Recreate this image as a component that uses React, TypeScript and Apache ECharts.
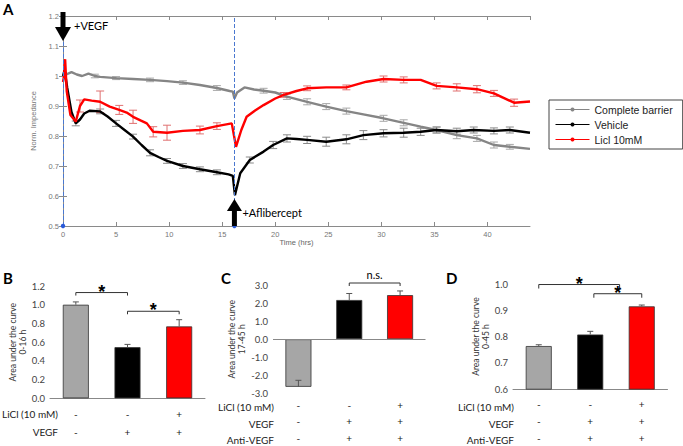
import React, { useEffect, useRef } from 'react';
import * as echarts from 'echarts';

// ---------- Panel A data: [time (hrs), norm. impedance, error] ----------
const barrierPts: number[][] = [
  [0, 0.995, 0], [0.3, 1.005, 0], [0.8, 1.013, 0], [1.3, 1.005, 0], [1.8, 1.0, 0], [2.4, 1.008, 0],
  [3, 1.0, 0.006], [3.5, 0.997, 0], [5, 0.993, 0.005], [6.6, 0.99, 0], [8.2, 0.987, 0.006],
  [9.8, 0.983, 0], [11.3, 0.978, 0.006], [12.9, 0.97, 0], [14.5, 0.96, 0.008], [15.7, 0.95, 0],
  [16.0, 0.948, 0], [16.15, 0.925, 0], [16.4, 0.945, 0], [17.1, 0.962, 0], [18, 0.955, 0],
  [18.9, 0.951, 0.008], [20, 0.945, 0], [21.1, 0.931, 0.009], [23, 0.914, 0.01], [24.8, 0.898, 0.01],
  [26.7, 0.883, 0.01], [28.3, 0.872, 0], [30.2, 0.859, 0.01], [32.1, 0.844, 0.01], [33.7, 0.831, 0],
  [35.2, 0.82, 0.01], [37.1, 0.803, 0.012], [39, 0.792, 0.01], [40.6, 0.77, 0.01], [42.1, 0.764, 0.008],
  [44, 0.757, 0],
];
const vehiclePts: number[][] = [
  [0, 1.0, 0], [0.15, 1.02, 0], [0.4, 0.96, 0], [0.8, 0.88, 0], [1.2, 0.842, 0.008], [1.6, 0.855, 0],
  [2.0, 0.875, 0], [2.5, 0.884, 0], [3.5, 0.882, 0.008], [4.2, 0.865, 0], [5, 0.842, 0.01],
  [5.8, 0.82, 0], [6.6, 0.798, 0.008], [7.4, 0.77, 0], [8.2, 0.744, 0.01], [9, 0.73, 0],
  [9.8, 0.717, 0.008], [11.3, 0.70, 0.008], [12.9, 0.689, 0.008], [14.5, 0.679, 0.008], [15.6, 0.672, 0],
  [16.0, 0.667, 0], [16.2, 0.603, 0], [16.7, 0.676, 0], [17.6, 0.72, 0.01], [18.9, 0.748, 0],
  [19.8, 0.77, 0.012], [21.1, 0.792, 0.012], [22, 0.79, 0], [23, 0.787, 0.012], [24.8, 0.781, 0.015],
  [26.7, 0.789, 0.015], [28.3, 0.803, 0.015], [30.2, 0.809, 0.012], [32.1, 0.811, 0.015],
  [33.7, 0.814, 0.012], [35.2, 0.82, 0.01], [37.1, 0.816, 0.01], [38.7, 0.82, 0.01], [40.6, 0.817, 0.01],
  [42.1, 0.82, 0.01], [44, 0.811, 0],
];
const liclPts: number[][] = [
  [0, 0.98, 0], [0.1, 1.0, 0], [0.2, 1.056, 0], [0.35, 0.95, 0], [0.7, 0.87, 0], [1.2, 0.848, 0],
  [1.6, 0.9, 0.02], [2.0, 0.922, 0], [2.7, 0.918, 0], [3.5, 0.914, 0.036], [4.4, 0.898, 0],
  [5.3, 0.887, 0.015], [6.0, 0.878, 0], [6.6, 0.864, 0.022], [7.3, 0.852, 0], [7.9, 0.842, 0],
  [8.5, 0.814, 0.017], [9.8, 0.811, 0.025], [11.3, 0.817, 0], [12.9, 0.82, 0.013], [14.5, 0.833, 0.011],
  [15.9, 0.842, 0], [16.3, 0.764, 0], [16.8, 0.82, 0], [17.3, 0.864, 0], [18.1, 0.885, 0],
  [18.9, 0.903, 0], [20, 0.925, 0], [20.8, 0.937, 0.008], [22, 0.95, 0], [23, 0.959, 0.008],
  [24.8, 0.962, 0], [26.7, 0.962, 0.008], [28.6, 0.981, 0], [30.2, 0.99, 0.01], [32.1, 0.987, 0.01],
  [33.7, 0.987, 0], [35.2, 0.967, 0.01], [37.1, 0.962, 0.012], [39, 0.956, 0.012], [40.6, 0.942, 0.01],
  [42.5, 0.911, 0.012], [44, 0.915, 0],
];
const lineNames = ['Complete barrier', 'Vehicle', 'Licl 10mM'];
const lineColors = ['#858585', '#000000', '#ff0000'];
const errColors = ['#a8a8a8', '#8a8a8a', '#e07070'];
const eventTimes = [0, 16.15];
const eventLabels = ['+VEGF', '+Aflibercept'];
const eventDirs = ['down', 'up'];

// ---------- Bar panels ----------
const barColors = ['#a6a6a6', '#000000', '#ff0000'];

const bValues = [1.0, 0.546, 0.768];
const bErrors = [0.03, 0.03, 0.072];
const bLiCl = ['-', '-', '+'];
const bVEGF = ['-', '+', '+'];
const bBrackets = [[0, 1, 1.13], [1, 2, 0.93]];
const bBracketText = ['*', '*'];

const cValues = [-2.63, 2.17, 2.44];
const cErrors = [0.36, 0.36, 0.23];
const cLiCl = ['-', '-', '+'];
const cVEGF = ['-', '+', '+'];
const cAnti = ['-', '+', '+'];
const cBrackets = [[1, 2, 3.11]];
const cBracketText = ['n.s.'];

const dValues = [0.764, 0.808, 0.915];
const dErrors = [0.005, 0.012, 0.005];
const dLiCl = ['-', '-', '+'];
const dVEGF = ['-', '+', '+'];
const dAnti = ['-', '+', '+'];
const dBrackets = [[0, 1.57, 0.998], [1.07, 2, 0.963]];
const dBracketText = ['*', '*'];

const FONT_A = 'Liberation Sans, Arial, sans-serif';
const FONT_B = 'Lato, Noto Sans, sans-serif';

// axis index of each bar panel (A uses 0 and 1)
const AX_B = 2;
const AX_C = 3;
const AX_D = 4;

function lineErrSeries(pts: number[][], color: string, name: string) {
  return {
    type: 'custom',
    name: name + '_err',
    xAxisIndex: 0,
    yAxisIndex: 0,
    clip: false,
    z: 1,
    data: pts.filter((p) => p[2] > 0),
    encode: { x: 0, y: 1 },
    renderItem: (params: any, api: any) => {
      const t = api.value(0);
      const v = api.value(1);
      const e = api.value(2);
      const top = api.coord([t, v + e]);
      const bot = api.coord([t, v - e]);
      const w = 4;
      const st = { stroke: color, lineWidth: 1 };
      return {
        type: 'group',
        children: [
          { type: 'line', shape: { x1: top[0], y1: top[1], x2: bot[0], y2: bot[1] }, style: st },
          { type: 'line', shape: { x1: top[0] - w, y1: top[1], x2: top[0] + w, y2: top[1] }, style: st },
          { type: 'line', shape: { x1: bot[0] - w, y1: bot[1], x2: bot[0] + w, y2: bot[1] }, style: st },
        ],
      };
    },
  };
}

function barErrSeries(ax: number, values: number[], errors: number[]) {
  return {
    type: 'custom',
    xAxisIndex: ax,
    yAxisIndex: ax,
    clip: false,
    z: 5,
    data: values.map((v, i) => [i, v, errors[i]]),
    encode: { x: 0, y: 1 },
    renderItem: (params: any, api: any) => {
      const i = api.value(0);
      const v = api.value(1);
      const e = api.value(2);
      const a = api.coord([i, v]);
      const b = api.coord([i, v + e]);
      const st = { stroke: '#555', lineWidth: 1 };
      return {
        type: 'group',
        children: [
          { type: 'line', shape: { x1: a[0], y1: a[1], x2: b[0], y2: b[1] }, style: st },
          { type: 'line', shape: { x1: b[0] - 3, y1: b[1], x2: b[0] + 3, y2: b[1] }, style: st },
        ],
      };
    },
  };
}

function bracketSeries(ax: number, brackets: number[][], texts: string[], tick: number) {
  return {
    type: 'custom',
    xAxisIndex: ax,
    yAxisIndex: ax,
    clip: false,
    z: 8,
    data: brackets.map((b) => [0, b[2], b[0], b[1]]),
    encode: { x: 0, y: 1 },
    renderItem: (params: any, api: any) => {
      const y = api.value(1);
      const cx = (x: number) => {
        const i = Math.floor(x);
        const f = x - i;
        const a = api.coord([i, y]);
        if (f === 0) return a[0];
        const b = api.coord([i + 1, y]);
        return a[0] + (b[0] - a[0]) * f;
      };
      const x1 = cx(api.value(2));
      const x2 = cx(api.value(3));
      const py = api.coord([0, y])[1];
      const txt = texts[params.dataIndex];
      const isStar = txt === '*';
      return {
        type: 'group',
        children: [
          {
            type: 'polyline',
            shape: { points: [[x1, py + tick], [x1, py], [x2, py], [x2, py + tick]] },
            style: { stroke: '#333', lineWidth: 1, fill: 'none' },
          },
          {
            type: 'text',
            style: {
              text: txt,
              x: (x1 + x2) / 2,
              y: isStar ? py - 1 : py - 9,
              align: 'center',
              verticalAlign: 'middle',
              font: isStar ? 'bold 18px ' + FONT_A : '11px ' + FONT_B,
              fill: '#000',
            },
          },
        ],
      };
    },
  };
}

export default function App() {
  const ref = useRef<HTMLDivElement>(null);
  useEffect(() => {
    if (!ref.current) return;
    const chart = echarts.init(ref.current, undefined, { renderer: 'svg' });

    const axisGrey = '#8a8a8a';

    const barX = (gridIndex: number, rows: string[][], margin: number, lineH: number, showLine: boolean) => ({
      type: 'category',
      gridIndex,
      data: ['0', '1', '2'],
      axisLine: { show: showLine, onZero: false, lineStyle: { color: '#888', width: 1 } },
      axisTick: { show: false },
      axisLabel: {
        interval: 0,
        margin,
        fontSize: 10,
        lineHeight: lineH,
        color: '#222',
        fontFamily: FONT_B,
        formatter: (_v: string, i: number) => rows.map((r) => r[i]).join('\n'),
      },
    });
    const barY = (gridIndex: number, min: number, max: number, interval: number, name: string, gap: number) => ({
      type: 'value',
      gridIndex,
      min,
      max,
      interval,
      axisLine: { show: false },
      axisTick: { show: false },
      splitLine: { show: false },
      axisLabel: { margin: 5, fontSize: 9.5, color: '#444', fontFamily: FONT_B, formatter: (v: number) => v.toFixed(1) },
      name,
      nameLocation: 'middle',
      nameGap: gap,
      nameTextStyle: { fontSize: 8.5, lineHeight: 10, color: '#333', fontFamily: FONT_B },
    });

    const barSeries = (ax: number, values: number[], zeroLine: boolean) => ({
      type: 'bar',
      xAxisIndex: ax,
      yAxisIndex: ax,
      barWidth: 26,
      z: 3,
      data: values.map((v, i) => ({ value: v, itemStyle: { color: barColors[i], borderColor: '#333', borderWidth: 0.8 } })),
      markLine: zeroLine
        ? { symbol: 'none', silent: true, label: { show: false }, lineStyle: { color: '#888', type: 'solid', width: 1 }, data: [{ yAxis: 0 }] }
        : undefined,
    });

    const allPts = [barrierPts, vehiclePts, liclPts];
    const rowText = (x: number, y: number, text: string) => ({
      type: 'text', x, y,
      style: { text, align: 'right', verticalAlign: 'middle', font: '10px ' + FONT_B, fill: '#222' },
    });

    const option: any = {
      animation: false,
      backgroundColor: '#ffffff',
      grid: [
        { left: 63, top: 16, width: 467, height: 210 },
        { left: 50, top: 286, width: 155, height: 112.3 },
        { left: 273, top: 285, width: 152.5, height: 112.5 },
        { left: 513, top: 284, width: 154.5, height: 107.7 },
      ],
      legend: {
        data: lineNames,
        orient: 'vertical',
        left: 549,
        top: 100,
        padding: [4, 10, 4, 6],
        itemGap: 4,
        itemWidth: 34,
        itemHeight: 5,
        borderColor: '#444',
        borderWidth: 1,
        backgroundColor: '#fff',
        lineStyle: { width: 1 },
        textStyle: { fontSize: 10.5, color: '#222', fontFamily: FONT_A },
      },
      xAxis: [
        {
          type: 'value', gridIndex: 0, min: 0, max: 44, interval: 5,
          axisLine: { lineStyle: { color: axisGrey } },
          axisTick: { inside: true, length: 4, lineStyle: { color: axisGrey } },
          axisLabel: { margin: 4, fontSize: 7.5, color: '#777', fontFamily: FONT_A, showMaxLabel: false },
          splitLine: { show: false },
          name: 'Time (hrs)', nameLocation: 'middle', nameGap: 11,
          nameTextStyle: { fontSize: 7.5, color: '#666', fontFamily: FONT_A },
        },
        {
          type: 'value', gridIndex: 0, min: 0, max: 44, interval: 5, position: 'top',
          axisLine: { lineStyle: { color: axisGrey } },
          axisTick: { inside: true, length: 4, lineStyle: { color: axisGrey } },
          axisLabel: { show: false },
          splitLine: { show: false },
        },
        barX(1, [bLiCl, bVEGF], 7, 17.7, true),
        barX(2, [cLiCl, cVEGF, cAnti], 3, 16.5, false),
        barX(3, [dLiCl, dVEGF, dAnti], 7, 16.6, true),
      ],
      yAxis: [
        {
          type: 'value', gridIndex: 0, min: 0.5, max: 1.2, interval: 0.1,
          axisLine: { lineStyle: { color: axisGrey } },
          axisTick: { inside: true, length: 4, lineStyle: { color: axisGrey } },
          axisLabel: { margin: 4, fontSize: 7.5, color: '#777', fontFamily: FONT_A },
          splitLine: { show: false },
          name: 'Norm. Impedance', nameLocation: 'middle', nameGap: 16,
          nameTextStyle: { fontSize: 7.5, color: '#777', fontFamily: FONT_A },
        },
        {
          type: 'value', gridIndex: 0, min: 0.5, max: 1.2, interval: 0.1, position: 'right',
          axisLine: { lineStyle: { color: axisGrey } },
          axisTick: { inside: true, length: 4, lineStyle: { color: axisGrey } },
          axisLabel: { show: false },
          splitLine: { show: false },
        },
        barY(1, 0, 1.2, 0.2, 'Area under the curve\n0-16 h', 18),
        barY(2, -3, 3, 1, 'Area under the curve\n17-45 h', 22),
        barY(3, 0.6, 1.0, 0.1, 'Area under the curve\n0-45 h', 19),
      ],
      graphic: [
        { type: 'text', left: 3, top: 1, style: { text: 'A', font: 'bold 15px ' + FONT_B, fill: '#000' } },
        { type: 'text', left: 3, top: 270, style: { text: 'B', font: 'bold 15px ' + FONT_B, fill: '#000' } },
        { type: 'text', left: 221, top: 270, style: { text: 'C', font: 'bold 15px ' + FONT_B, fill: '#000' } },
        { type: 'text', left: 446, top: 270, style: { text: 'D', font: 'bold 15px ' + FONT_B, fill: '#000' } },
        rowText(58, 414, 'LiCl (10 mM)'),
        rowText(58, 431.7, 'VEGF'),
        rowText(274, 407, 'LiCl (10 mM)'),
        rowText(274, 424, 'VEGF'),
        rowText(274, 440, 'Anti-VEGF'),
        rowText(514, 406.7, 'LiCl (10 mM)'),
        rowText(514, 423.5, 'VEGF'),
        rowText(514, 440, 'Anti-VEGF'),
      ],
      series: [
        ...allPts.map((pts, i) => lineErrSeries(pts, errColors[i], lineNames[i])),
        ...allPts.map((pts, i) => ({
          type: 'line',
          name: lineNames[i],
          xAxisIndex: 0,
          yAxisIndex: 0,
          data: pts.map((p) => [p[0], p[1]]),
          showSymbol: false,
          symbol: 'circle',
          symbolSize: 3,
          color: lineColors[i],
          lineStyle: { color: lineColors[i], width: 2.4 },
          z: 2 + i,
          markLine: i === 0
            ? {
                symbol: 'none', silent: true, label: { show: false },
                lineStyle: { color: '#4a78d0', type: 'dashed', width: 1 },
                data: eventTimes.map((t) => ({ xAxis: t })),
              }
            : undefined,
        })),
        {
          type: 'custom',
          xAxisIndex: 0,
          yAxisIndex: 0,
          clip: false,
          z: 10,
          data: eventTimes.map((t, i) => [t, 0.5, i]),
          encode: { x: 0, y: 1 },
          renderItem: (params: any, api: any) => {
            const t = api.value(0);
            const i = params.dataIndex;
            const cs = params.coordSys;
            const x = api.coord([t, 0.5])[0];
            const top = cs.y;
            const bottom = cs.y + cs.height;
            const children: any[] = [
              { type: 'circle', shape: { cx: x, cy: bottom, r: 2.2 }, style: { fill: '#2a5ad8' } },
            ];
            if (eventDirs[i] === 'down') {
              children.push(
                { type: 'rect', shape: { x: x - 2.5, y: top - 4, width: 5, height: 16 }, style: { fill: '#000' } },
                { type: 'polygon', shape: { points: [[x - 8, top + 11], [x + 8, top + 11], [x, top + 25]] }, style: { fill: '#000' } },
                { type: 'text', style: { text: eventLabels[i], x: x + 11, y: top + 9, verticalAlign: 'middle', font: '11px ' + FONT_B, fill: '#000' } },
              );
            } else {
              children.push(
                { type: 'rect', shape: { x: x - 2.5, y: bottom - 16, width: 5, height: 16 }, style: { fill: '#000' } },
                { type: 'polygon', shape: { points: [[x - 7.5, bottom - 15], [x + 7.5, bottom - 15], [x, bottom - 27]] }, style: { fill: '#000' } },
                { type: 'text', style: { text: eventLabels[i], x: x + 8, y: bottom - 14, verticalAlign: 'middle', font: '11px ' + FONT_B, fill: '#000' } },
              );
            }
            return { type: 'group', children };
          },
        },
        barSeries(AX_B, bValues, false),
        barSeries(AX_C, cValues, true),
        barSeries(AX_D, dValues, false),
        barErrSeries(AX_B, bValues, bErrors),
        barErrSeries(AX_C, cValues, cErrors),
        barErrSeries(AX_D, dValues, dErrors),
        bracketSeries(AX_B, bBrackets, bBracketText, 3),
        bracketSeries(AX_C, cBrackets, cBracketText, 3),
        bracketSeries(AX_D, dBrackets, dBracketText, 4),
      ],
    };
    chart.setOption(option);
    return () => chart.dispose();
  }, []);
  return <div ref={ref} style={{ position: 'fixed', left: 0, top: 0, width: 683, height: 446, background: '#fff' }} />;
}
